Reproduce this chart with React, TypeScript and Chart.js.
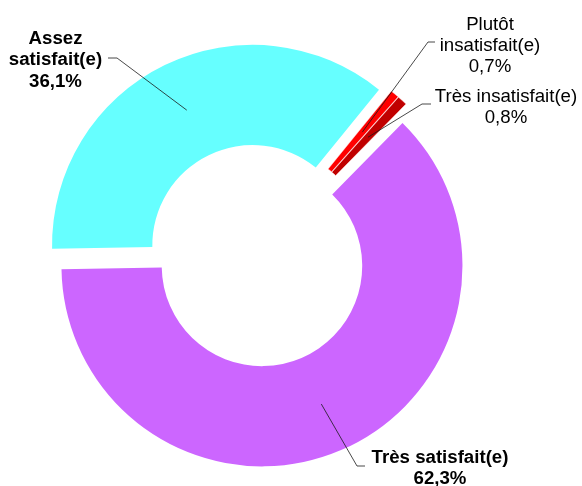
import React, { useEffect, useRef } from 'react';
import { Chart, registerables } from 'chart.js';

Chart.register(...registerables);

// ---- Data ----
const categoryLines: string[][] = [
  ['Très satisfait(e)'],
  ['Assez', 'satisfait(e)'],
  ['Plutôt', 'insatisfait(e)'],
  ['Très insatisfait(e)'],
];
const categories = categoryLines.map((l) => l.join(' '));
const values = [62.3, 36.1, 0.7, 0.8];

// ---- Styles ----
const colors = ['#CC66FF', '#66FFFF', '#FF0000', '#C00000'];
const borderWidths = [0, 0, 0.6, 0.6];
const explode = [11.3, 11.3, 11.5, 11.5];
const labelBold = [true, true, false, false];
// label layout: text centre x, first baseline y, elbow x, leader y, leader end x
const labelLayout = [
  { textX: 440, baseY: 463, elbowX: 357, lineY: 466, endX: 365 },
  { textX: 55.5, baseY: 44, elbowX: 117, lineY: 58, endX: 108 },
  { textX: 490, baseY: 29.5, elbowX: 428, lineY: 42, endX: 435 },
  { textX: 506, baseY: 101.5, elbowX: 422, lineY: 104, endX: 431 },
];
const LINE_H = 21.3;
const FONT = '"Liberation Sans", Arial, sans-serif';

const fmt = (v: number) => v.toFixed(1).replace('.', ',') + '%';

const explodePlugin = {
  id: 'explodeSlices',
  afterDatasetsUpdate(chart: any) {
    const meta = chart.getDatasetMeta(0);
    meta.data.forEach((arc: any, i: number) => {
      const half = (arc.startAngle + arc.endAngle) / 2;
      arc.x += Math.cos(half) * explode[i];
      arc.y += Math.sin(half) * explode[i];
    });
  },
};

const calloutPlugin = {
  id: 'calloutLabels',
  afterDatasetsDraw(chart: any) {
    const ctx: CanvasRenderingContext2D = chart.ctx;
    const meta = chart.getDatasetMeta(0);
    meta.data.forEach((arc: any, i: number) => {
      const { x, y, startAngle, endAngle, innerRadius, outerRadius } = arc;
      const half = (startAngle + endAngle) / 2;
      const mid = (innerRadius + outerRadius) / 2;
      const ax = x + Math.cos(half) * mid;
      const ay = y + Math.sin(half) * mid;
      const L = labelLayout[i];
      ctx.save();
      ctx.strokeStyle = '#1a1a1a';
      ctx.lineWidth = 0.8;
      ctx.beginPath();
      ctx.moveTo(ax, ay);
      ctx.lineTo(L.elbowX, L.lineY);
      ctx.lineTo(L.endX, L.lineY);
      ctx.stroke();
      ctx.font = `${labelBold[i] ? 'bold ' : ''}18.67px ${FONT}`;
      ctx.fillStyle = '#000';
      ctx.textAlign = 'center';
      ctx.textBaseline = 'alphabetic';
      const lines = [...categoryLines[i], fmt(values[i])];
      lines.forEach((t, k) => ctx.fillText(t, L.textX, L.baseY + k * LINE_H));
      ctx.restore();
    });
  },
};

export default function App() {
  const ref = useRef<HTMLCanvasElement | null>(null);
  useEffect(() => {
    if (!ref.current) return;
    const chart = new Chart(ref.current, {
      type: 'doughnut',
      data: {
        labels: categories,
        datasets: [
          {
            data: values,
            backgroundColor: colors,
            borderColor: 'rgba(255,210,210,0.8)',
            borderWidth: borderWidths,
            offset: 0,
          },
        ],
      },
      options: {
        animation: false,
        responsive: true,
        maintainAspectRatio: false,
        events: [],
        rotation: 44.5,
        cutout: '50%',
        radius: 200.5,
        layout: { padding: { left: 0, right: 67, top: 25, bottom: 0 } },
        plugins: {
          legend: { display: false },
          tooltip: { enabled: false },
        },
      },
      plugins: [explodePlugin, calloutPlugin],
    } as any);
    return () => chart.destroy();
  }, []);
  return (
    <div style={{ position: 'absolute', left: 0, top: 0, width: 582, height: 486, background: '#fff' }}>
      <canvas ref={ref} />
    </div>
  );
}
